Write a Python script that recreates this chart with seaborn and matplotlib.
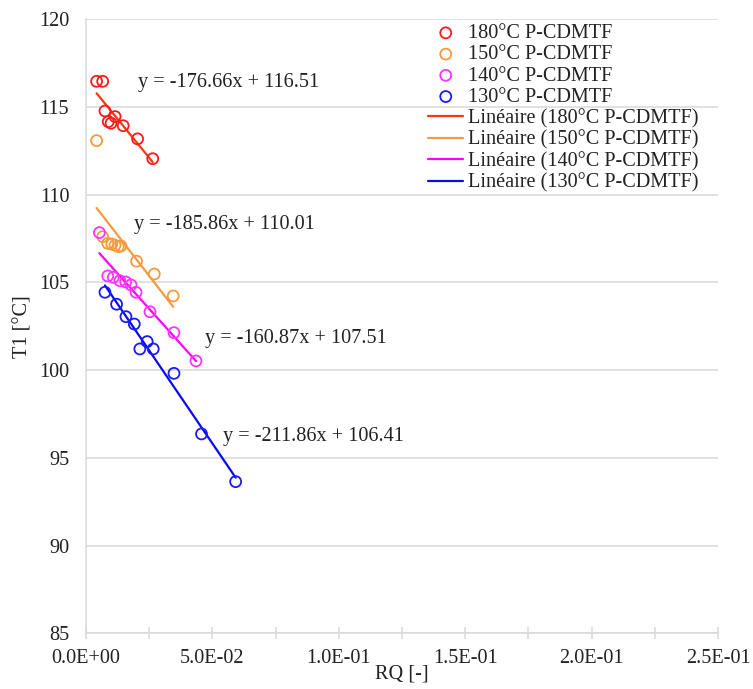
import matplotlib
matplotlib.use("Agg")
import matplotlib.pyplot as plt
import seaborn as sns
import numpy as np

# ---------------- data ----------------
series_names = ["180°C P-CDMTF", "150°C P-CDMTF", "140°C P-CDMTF", "130°C P-CDMTF"]

rq_180 = [0.0042, 0.0066, 0.0075, 0.0088, 0.0099, 0.0115, 0.0147, 0.0204, 0.0264]
t1_180 = [116.45, 116.45, 114.76, 114.15, 114.06, 114.44, 113.92, 113.17, 112.04]

rq_150 = [0.0042, 0.0066, 0.0086, 0.0102, 0.0115, 0.0128, 0.0138, 0.0200, 0.0270, 0.0345]
t1_150 = [113.07, 107.60, 107.22, 107.18, 107.11, 107.03, 107.07, 106.20, 105.47, 104.22]

rq_140 = [0.0053, 0.0086, 0.0108, 0.0134, 0.0157, 0.0178, 0.0198, 0.0253, 0.0348, 0.0435]
t1_140 = [107.83, 105.36, 105.28, 105.09, 105.02, 104.85, 104.43, 103.32, 102.13, 100.52]

rq_130 = [0.0075, 0.0121, 0.0158, 0.0191, 0.0242, 0.0213, 0.0266, 0.0348, 0.0457, 0.0592]
t1_130 = [104.43, 103.75, 103.04, 102.62, 101.62, 101.20, 101.20, 99.81, 96.36, 93.64]

slopes = [-176.66, -185.86, -160.87, -211.86]
intercepts = [116.51, 110.01, 107.51, 106.41]
equations = ["y = -176.66x + 116.51", "y = -185.86x + 110.01",
             "y = -160.87x + 107.51", "y = -211.86x + 106.41"]

x_ticks = [0.0, 0.05, 0.10, 0.15, 0.20, 0.25]
x_tick_labels = ["0.0E+00", "5.0E-02", "1.0E-01", "1.5E-01", "2.0E-01", "2.5E-01"]
y_ticks = [85, 90, 95, 100, 105, 110, 115, 120]

# ---------------- style ----------------
sns.set_theme(style="white")
plt.rcParams["font.family"] = ["Liberation Serif", "DejaVu Serif"]
plt.rcParams["mathtext.default"] = "regular"

marker_colors = ["#FF1A1A", "#F79A3E", "#FF33FF", "#1A1AFF"]
line_colors = ["#F53A12", "#F79A3E", "#FF00FF", "#0A0AF0"]
eq_pos = [(0.0206, 116.41), (0.0190, 108.27), (0.0470, 101.77), (0.0542, 96.24)]

fs = 14.6

fig = plt.figure(figsize=(7.53, 6.89), dpi=100)
ax = fig.add_axes([86 / 753, (689 - 633.3) / 689, (718 - 86) / 753, (633.3 - 19) / 689])

all_x = [rq_180, rq_150, rq_140, rq_130]
all_y = [t1_180, t1_150, t1_140, t1_130]

for xs, ys, name, c in zip(all_x, all_y, series_names, marker_colors):
    sns.scatterplot(x=xs, y=ys, ax=ax, marker="o", s=62, facecolor="none",
                    edgecolor=c, linewidth=1.3, label=name, zorder=3)

for xs, m, b, name, c in zip(all_x, slopes, intercepts, series_names, line_colors):
    xl = np.array([min(xs), max(xs)])
    sns.lineplot(x=xl, y=m * xl + b, ax=ax, color=c, linewidth=1.6,
                 label=f"Linéaire ({name})", zorder=2)

for (ex, ey), txt in zip(eq_pos, equations):
    ax.text(ex, ey, txt, fontsize=fs, va="center", ha="left", color="#222222")

ax.set_xlim(0, 0.25)
ax.set_ylim(85, 120)
ax.set_xticks(x_ticks)
ax.set_xticklabels(x_tick_labels)
ax.set_xticks(np.arange(0.025, 0.25, 0.05), minor=True)
ax.set_yticks(y_ticks)
ax.yaxis.grid(True, color="#D9D9D9", linewidth=1.1)
ax.set_axisbelow(True)

for s in ["top", "right"]:
    ax.spines[s].set_visible(False)
for s in ["left", "bottom"]:
    ax.spines[s].set_color("#D9D9D9")
    ax.spines[s].set_linewidth(1.1)

ax.tick_params(axis="x", which="both", direction="inout", length=8, width=1.1,
               color="#D9D9D9", labelsize=fs, labelcolor="#222222", pad=7, bottom=True)
ax.tick_params(axis="y", length=0, labelsize=fs, labelcolor="#222222", pad=12)

ax.set_xlabel("RQ [-]", fontsize=fs, color="#222222", labelpad=-2)
ax.set_ylabel("T1 [°C]", fontsize=fs, color="#222222", labelpad=5)

leg = ax.legend(loc="upper left", bbox_to_anchor=(428 / 753, 1 - 24 / 689),
                bbox_transform=fig.transFigure, frameon=False, fontsize=fs,
                labelspacing=0.1, handlelength=1.75, handletextpad=0.2,
                borderpad=0, borderaxespad=0)
for t in leg.get_texts():
    t.set_color("#222222")

fig.savefig("out.png", dpi=100)
